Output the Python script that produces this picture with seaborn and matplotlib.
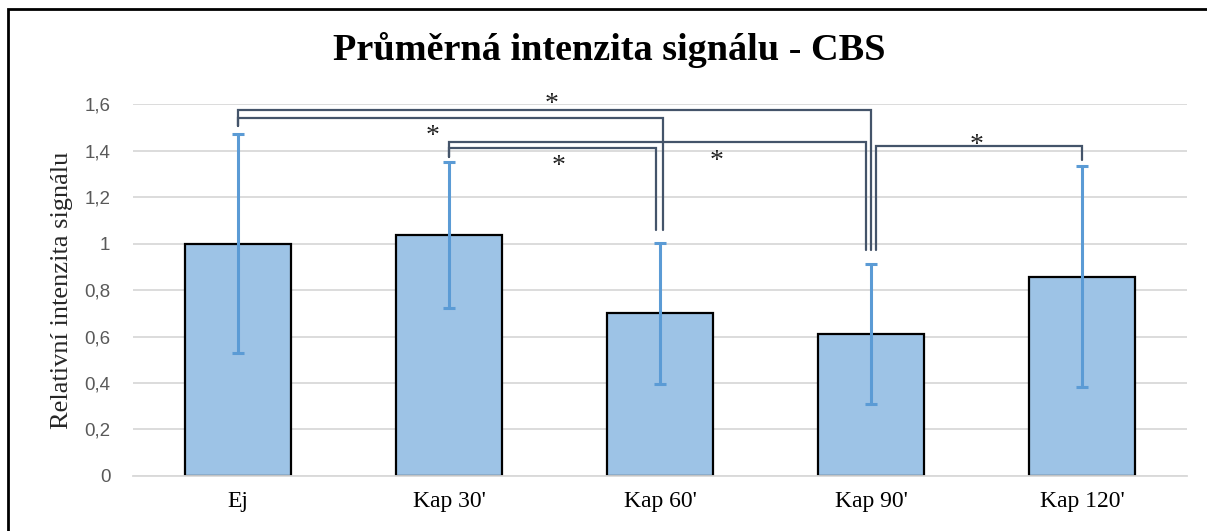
import matplotlib
matplotlib.use("Agg")
import matplotlib.pyplot as plt
import seaborn as sns
import pandas as pd
from matplotlib.patches import Rectangle

# data
categories = ["Ej", "Kap 30'", "Kap 60'", "Kap 90'", "Kap 120'"]
means = [1.0, 1.035, 0.70, 0.611, 0.857]
errors = [0.472, 0.314, 0.303, 0.30, 0.475]

# significance brackets: pair of bars, bracket height, end drops, small x offsets
bracket_pairs = [(0, 3), (0, 2), (1, 3), (1, 2), (3, 4)]
bracket_y = [1.574, 1.541, 1.438, 1.409, 1.421]
bracket_ends = [(1.507, 0.972), (1.507, 1.058), (1.373, 0.972), (1.373, 1.058), (0.972, 1.359)]
bracket_offsets = [(0, 0), (0, 0.015), (0, -0.024), (0, -0.017), (0.024, 0)]

# star labels (x in category units, y in data units)
star_x = [1.488, 0.924, 1.521, 2.27, 3.502]
star_y = [1.617, 1.48, 1.351, 1.372, 1.441]

df = pd.DataFrame({"cat": categories, "val": means})

sns.set_style("white")
fig = plt.figure(figsize=(12.07, 5.31), dpi=100)
ax = fig.add_axes([0.1098, 0.1036, 0.874, 0.7005])

sns.barplot(data=df, x="cat", y="val", color="#9DC3E6", width=0.5,
            edgecolor="black", linewidth=1.6, saturation=1, errorbar=None, ax=ax, zorder=2)
ax.errorbar(range(len(categories)), means, yerr=errors, fmt="none",
            ecolor="#5B9BD5", elinewidth=2.2, capsize=4.5, capthick=2.2, zorder=3)

bracket_color = "#44546A"
for (i, j), y, (d1, d2), (o1, o2) in zip(bracket_pairs, bracket_y, bracket_ends, bracket_offsets):
    x1, x2 = i + o1, j + o2
    ax.plot([x1, x1, x2, x2], [d1, y, y, d2], color=bracket_color, lw=1.6,
            solid_joinstyle="miter", zorder=4, clip_on=False)

for sx, sy in zip(star_x, star_y):
    ax.text(sx, sy - 0.02, "*", ha="center", va="center", fontsize=20,
            family="Liberation Serif", color="#222222", zorder=5)

ax.set_ylim(0, 1.6)
ax.set_xlim(-0.5, len(categories) - 0.5)
ax.set_yticks([0, 0.2, 0.4, 0.6, 0.8, 1.0, 1.2, 1.4, 1.6])
ax.set_yticklabels(["0", "0,2", "0,4", "0,6", "0,8", "1", "1,2", "1,4", "1,6"],
                   family="Liberation Sans", fontsize=13.5, color="#595959")
ax.yaxis.grid(True, color="#D9D9D9", lw=1.3, zorder=0)
ax.set_axisbelow(True)
for s in ["top", "right", "left"]:
    ax.spines[s].set_visible(False)
ax.spines["bottom"].set_color("#D9D9D9")
ax.spines["bottom"].set_linewidth(1.3)
ax.tick_params(axis="y", length=0, pad=16)

# Excel-style tick marks between categories
ax.set_xticks([k + 0.5 for k in range(-1, len(categories))], minor=True)
ax.tick_params(axis="x", which="minor", length=8, width=1.3, color="#D9D9D9", direction="out")
ax.tick_params(axis="x", which="major", length=0, pad=11)
for lab in ax.get_xticklabels():
    lab.set_family("Liberation Serif")
    lab.set_fontsize(17)
    lab.set_color("black")

ax.set_xlabel("")
ax.set_ylabel("Relativní intenzita signálu", family="Liberation Serif", fontsize=19, labelpad=8)
fig.text(0.505, 0.905, "Průměrná intenzita signálu - CBS", ha="center", va="center",
         family="Liberation Serif", fontweight="bold", fontsize=27.5, color="black")

# chart border
fig.patches.append(Rectangle((8 / 1207, -0.05), 1.2, 1 - 9 / 531 + 0.05,
                             transform=fig.transFigure, fill=False,
                             edgecolor="black", lw=2, zorder=10))

fig.savefig("out.png", dpi=100)
